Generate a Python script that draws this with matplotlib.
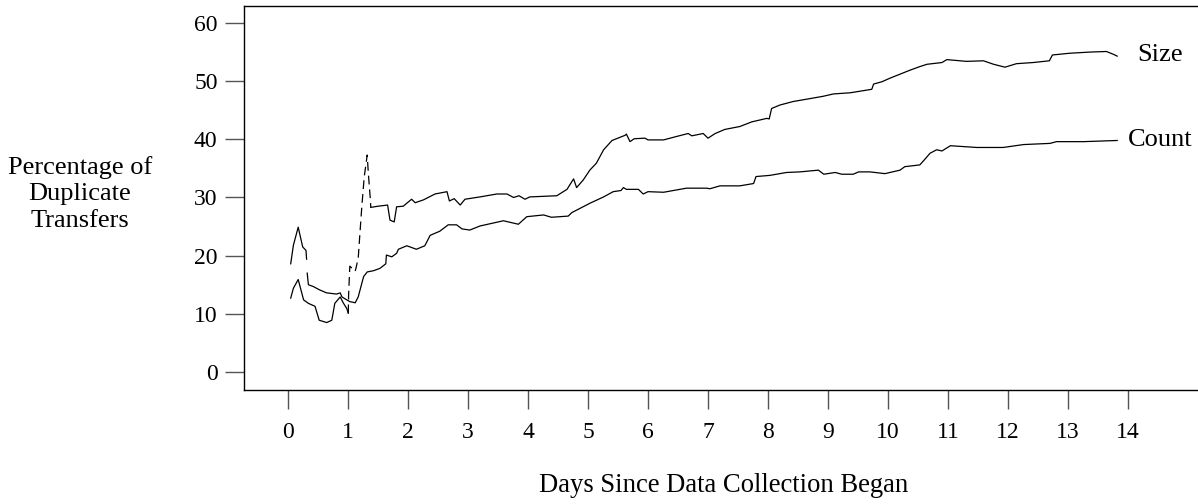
import matplotlib
matplotlib.use('Agg')
import matplotlib.pyplot as plt

# values (days, percentage)
count_early_days = [0.045, 0.09, 0.17, 0.245, 0.3, 0.31]
count_early_vals = [18.6, 21.8, 24.9, 21.5, 20.9, 19.4]

count_days = [0.32, 0.34, 0.42, 0.53, 0.645, 0.81, 0.87, 0.9, 0.98, 1.03, 1.12, 1.17, 1.26, 1.32,
              1.42, 1.53, 1.63, 1.64, 1.73, 1.81, 1.84, 1.98, 2.14, 2.28, 2.37, 2.53, 2.67, 2.81,
              2.9, 3.03, 3.2, 3.59, 3.84, 3.98, 4.26, 4.39, 4.67, 4.73, 5.03, 5.26, 5.42, 5.55,
              5.59, 5.64, 5.84, 5.92, 6.0, 6.26, 6.64, 6.98, 7.03, 7.2, 7.53, 7.76, 7.8, 8.03,
              8.31, 8.53, 8.84, 8.93, 9.12, 9.23, 9.42, 9.51, 9.7, 9.95, 10.2, 10.28, 10.53,
              10.6, 10.7, 10.81, 10.9, 11.04, 11.48, 11.92, 12.26, 12.7, 12.81, 13.26, 13.82]
count_vals = [17.0, 15.0, 14.7, 14.1, 13.6, 13.4, 13.6, 12.9, 12.4, 12.1, 11.9, 12.9, 16.4, 17.2,
              17.4, 17.8, 18.6, 20.1, 19.8, 20.4, 21.1, 21.7, 21.1, 21.7, 23.5, 24.2, 25.3, 25.3,
              24.6, 24.4, 25.1, 26.0, 25.4, 26.7, 27.0, 26.6, 26.8, 27.4, 29.0, 30.1, 31.0, 31.2,
              31.7, 31.4, 31.4, 30.6, 31.0, 30.9, 31.6, 31.6, 31.5, 32.0, 32.0, 32.4, 33.6, 33.8,
              34.3, 34.4, 34.7, 34.0, 34.3, 34.0, 34.0, 34.4, 34.4, 34.1, 34.7, 35.3, 35.6,
              36.4, 37.6, 38.2, 38.0, 38.9, 38.6, 38.6, 39.1, 39.3, 39.6, 39.6, 39.8]

size_early_days = [0.045, 0.09, 0.17, 0.26, 0.34, 0.45, 0.52, 0.645, 0.73, 0.78, 0.87, 0.92, 0.98, 1.005]
size_early_vals = [12.7, 14.4, 15.9, 12.4, 11.8, 11.3, 8.9, 8.5, 8.9, 11.8, 12.9, 11.9, 10.9, 10.1]

size_jump_days = [1.005, 1.01, 1.03, 1.12, 1.17, 1.2, 1.23, 1.27, 1.32, 1.34, 1.37, 1.38]
size_jump_vals = [10.1, 13.2, 18.2, 17.3, 19.5, 24.0, 28.4, 33.5, 37.3, 34.0, 30.0, 28.3]

size_days = [1.38, 1.5, 1.66, 1.7, 1.77, 1.81, 1.92, 2.06, 2.12, 2.26, 2.45, 2.65, 2.69, 2.77,
             2.87, 2.95, 3.2, 3.48, 3.65, 3.76, 3.85, 3.95, 4.03, 4.48, 4.65, 4.76, 4.81, 4.92,
             5.03, 5.14, 5.26, 5.4, 5.62, 5.64, 5.7, 5.77, 5.95, 6.0, 6.26, 6.48, 6.67, 6.73,
             6.92, 7.0, 7.12, 7.28, 7.53, 7.73, 7.98, 8.02, 8.06, 8.2, 8.42, 8.7, 8.92, 9.09,
             9.37, 9.73, 9.76, 9.9, 10.03, 10.2, 10.37, 10.53, 10.65, 10.9, 10.98, 11.31, 11.59,
             11.76, 11.95, 12.14, 12.42, 12.69, 12.74, 13.03, 13.37, 13.64, 13.76, 13.82]
size_vals = [28.3, 28.5, 28.7, 26.1, 25.8, 28.4, 28.5, 29.7, 29.1, 29.6, 30.6, 31.0, 29.4, 29.8,
             28.7, 29.7, 30.1, 30.6, 30.6, 30.0, 30.3, 29.7, 30.1, 30.3, 31.4, 33.2, 31.7, 33.0,
             34.7, 35.9, 38.2, 39.8, 40.7, 40.9, 39.6, 40.1, 40.2, 39.9, 39.9, 40.5, 41.0, 40.6,
             41.0, 40.2, 41.0, 41.7, 42.2, 43.0, 43.6, 43.5, 45.3, 45.9, 46.5, 47.0, 47.4, 47.8,
             48.0, 48.6, 49.5, 49.9, 50.5, 51.2, 51.9, 52.5, 52.9, 53.2, 53.7, 53.4, 53.5,
             52.9, 52.4, 53.0, 53.2, 53.5, 54.5, 54.8, 55.0, 55.1, 54.6, 54.3]

x_ticks = list(range(0, 15))
y_ticks = [0, 10, 20, 30, 40, 50, 60]

plt.rcParams['font.family'] = ['Liberation Serif', 'DejaVu Serif']

fig = plt.figure(figsize=(11.98, 5.04), dpi=100)
ax = fig.add_axes([244 / 1198, 1 - 390 / 504, 1 - 244 / 1198, 384 / 504])

lw = 0.9
ax.plot(count_early_days, count_early_vals, color='black', lw=lw)
ax.plot(count_days, count_vals, color='black', lw=lw)
ax.plot(size_early_days, size_early_vals, color='black', lw=lw)
ax.plot(size_jump_days, size_jump_vals, color='black', lw=lw, dashes=(7, 4))
ax.plot(size_days, size_vals, color='black', lw=lw)

ax.set_xlim(-44 / 60, 910 / 60)
ax.set_ylim(-18 / 5.817, 366 / 5.817)
ax.set_xticks(x_ticks)
ax.set_yticks(y_ticks)
ax.tick_params(axis='both', direction='out', length=14, width=1.0, color='#555555',
               labelsize=17, labelcolor='black')
ax.tick_params(axis='x', pad=9)
ax.tick_params(axis='y', pad=5)
ax.spines['right'].set_visible(False)
for s in ['left', 'top', 'bottom']:
    ax.spines[s].set_linewidth(1.0)

ax.text(14.15, 54.5, 'Size', fontsize=19, va='center', ha='left')
ax.text(14.0, 39.8, 'Count', fontsize=19, va='center', ha='left')

fig.text(80 / 1198, 1 - 194 / 504, 'Percentage of\nDuplicate\nTransfers', fontsize=19,
         ha='center', va='center', linespacing=1.25)
fig.text(724 / 1198, 1 - 486 / 504, 'Days Since Data Collection Began', fontsize=19.2,
         ha='center', va='center')

fig.savefig('out.png', dpi=100)
